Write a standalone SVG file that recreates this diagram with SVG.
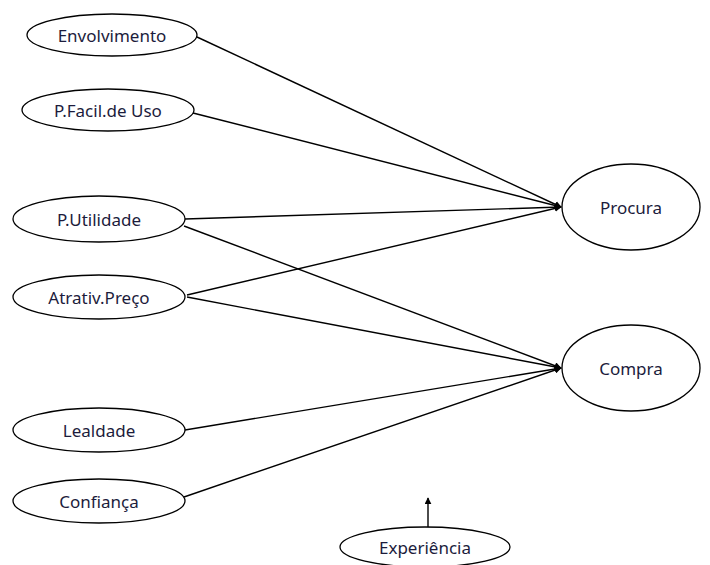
<svg xmlns="http://www.w3.org/2000/svg" width="710" height="565" viewBox="0 0 710 565">
  <style>
    .node ellipse { fill: #ffffff; stroke: #000000; stroke-width: 1.3; }
    .node text { font-family: "Noto Sans", "Open Sans", sans-serif; font-size: 17px; fill: #1c1c3c; text-anchor: middle; dominant-baseline: central; }
    .edge { stroke: #000000; stroke-width: 1.4; fill: none; marker-end: url(#arrow); }
  </style>
  <defs>
    <marker id="arrow" viewBox="0 0 10 10" refX="9" refY="5" markerWidth="7" markerHeight="7" markerUnits="userSpaceOnUse" orient="auto">
      <path d="M0,0 L10,5 L0,10 z" fill="#000000"/>
    </marker>
  </defs>
  <rect width="710" height="565" fill="#ffffff"/>

  <g id="connectors">
    <line class="edge" x1="197" y1="37" x2="561" y2="207"/>
    <line class="edge" x1="193" y1="113" x2="561" y2="207"/>
    <line class="edge" x1="185" y1="219" x2="561" y2="207"/>
    <line class="edge" x1="187" y1="295" x2="561" y2="207"/>
    <line class="edge" x1="184" y1="226" x2="561" y2="368"/>
    <line class="edge" x1="187" y1="297" x2="561" y2="368"/>
    <line class="edge" x1="185" y1="430" x2="561" y2="368"/>
    <line class="edge" x1="184" y1="497" x2="561" y2="368"/>
    <line class="edge" x1="428" y1="527" x2="428" y2="498"/>
  </g>

  <g id="envolvimento" class="node">
    <ellipse cx="112" cy="35" rx="85" ry="21"/>
    <text x="112" y="35">Envolvimento</text>
  </g>
  <g id="pfacil" class="node">
    <ellipse cx="108" cy="110" rx="86" ry="21"/>
    <text x="108" y="110">P.Facil.de Uso</text>
  </g>
  <g id="putilidade" class="node">
    <ellipse cx="99" cy="219" rx="86" ry="23"/>
    <text x="99" y="219">P.Utilidade</text>
  </g>
  <g id="atrativ" class="node">
    <ellipse cx="99" cy="297" rx="86" ry="22"/>
    <text x="99" y="297">Atrativ.Preço</text>
  </g>
  <g id="lealdade" class="node">
    <ellipse cx="99" cy="430" rx="86" ry="22"/>
    <text x="99" y="430">Lealdade</text>
  </g>
  <g id="confianca" class="node">
    <ellipse cx="99" cy="501" rx="86" ry="22"/>
    <text x="99" y="501">Confiança</text>
  </g>
  <g id="procura" class="node">
    <ellipse cx="631" cy="207" rx="69" ry="43"/>
    <text x="631" y="207">Procura</text>
  </g>
  <g id="compra" class="node">
    <ellipse cx="631" cy="368" rx="69" ry="43"/>
    <text x="631" y="368">Compra</text>
  </g>
  <g id="experiencia" class="node">
    <ellipse cx="425" cy="547" rx="85" ry="20"/>
    <text x="425" y="547">Experiência</text>
  </g>
</svg>
